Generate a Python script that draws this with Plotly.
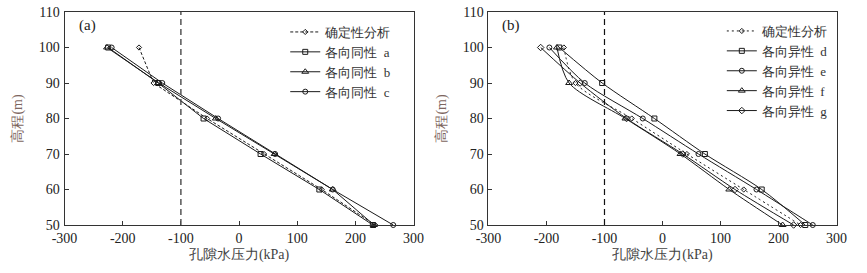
import plotly.graph_objects as go
from plotly.subplots import make_subplots

elev = [100, 90, 80, 70, 60, 50]

# Panel (a)
a_det = [-172, -147, -55, 43, 142, 234]
a_iso_a = [-225, -139, -61, 37, 138, 230]
a_iso_b = [-227, -138, -40, 61, 161, 232]
a_iso_c = [-219, -132, -36, 62, 161, 265]

# Panel (b)
b_det = [-170, -150, -53, 42, 140, 238]
b_ani_d = [-178, -104, -14, 73, 171, 246]
b_ani_e = [-195, -134, -34, 62, 162, 259]
b_ani_f = [-182, -161, -64, 31, 115, 207]
b_ani_g = [-210, -142, -62, 35, 125, 226]

x_ticks = [-300, -200, -100, 0, 100, 200, 300]
x_tick_text = ["-300", "-200", "-100", "0", "100", "200", "300"]
y_ticks = [50, 60, 70, 80, 90, 100, 110]
boundary_x = -100

names_a = ["确定性分析", "各向同性  a", "各向同性  b", "各向同性  c"]
names_b = ["确定性分析", "各向异性  d", "各向异性  e", "各向异性  f", "各向异性  g"]

SERIF = "Liberation Serif"
LC = "#1a1a1a"

fig = make_subplots(rows=1, cols=2)

def add(xs, name, symbol, col, legend, dash="solid", shape="linear", msize=5):
    fig.add_trace(go.Scatter(
        x=xs, y=elev, name=name, mode="lines+markers",
        line=dict(color=LC, width=1, dash=dash, shape=shape, smoothing=0.8),
        marker=dict(symbol=symbol, size=msize, color=LC,
                    line=dict(color=LC, width=1)),
        legend=legend, cliponaxis=False,
    ), row=1, col=col)

add(a_det, names_a[0], "diamond-open", 1, "legend", dash="3px,2px", msize=4)
add(a_iso_a, names_a[1], "square-open", 1, "legend")
add(a_iso_b, names_a[2], "triangle-up-open", 1, "legend", msize=6)
add(a_iso_c, names_a[3], "circle-open", 1, "legend")

add(b_det, names_b[0], "diamond-open", 2, "legend2", dash="2px,3px", shape="spline", msize=4)
add(b_ani_d, names_b[1], "square-open", 2, "legend2", shape="spline")
add(b_ani_e, names_b[2], "circle-open", 2, "legend2", shape="spline")
add(b_ani_f, names_b[3], "triangle-up-open", 2, "legend2", shape="spline", msize=6)
add(b_ani_g, names_b[4], "diamond-open", 2, "legend2", shape="spline")

W, H = 867, 273
ax_common = dict(
    showline=True, linecolor="#333", linewidth=1, mirror=True,
    ticks="inside", ticklen=4, tickcolor="#333",
    showgrid=False, zeroline=False,
    tickfont=dict(family=SERIF, size=14, color="#222"),
)
xdoms = [(53 / W, 412 / W), (489 / W, 847 / W)]
for i, col in enumerate([1, 2]):
    fig.update_xaxes(
        range=[-300, 300], tickvals=x_ticks, ticktext=x_tick_text,
        domain=list(xdoms[i]),
        title=dict(text="孔隙水压力(kPa)", standoff=4,
                   font=dict(family=SERIF, size=14, color="#444")),
        **ax_common, row=1, col=col)
    fig.update_yaxes(
        range=[50, 110], tickvals=y_ticks, ticklabelstandoff=1,
        title=dict(text="高程(m)", standoff=12,
                   font=dict(family=SERIF, size=14, color="#7d6660")),
        **ax_common, row=1, col=col)

fig.add_shape(type="line", xref="x", yref="y domain", x0=boundary_x, x1=boundary_x,
              y0=0, y1=1, line=dict(color="#555", width=1.5, dash="6px,4px"))
fig.add_shape(type="line", xref="x2", yref="y2 domain", x0=boundary_x, x1=boundary_x,
              y0=0, y1=1, line=dict(color="#111", width=1.2, dash="6px,4px"))

fig.add_annotation(text="(a)", xref="paper", yref="paper", x=77 / W, y=(225 - 26) / 213,
                   xanchor="center", yanchor="middle",
                   showarrow=False, font=dict(family=SERIF, size=15, color="#222"))
fig.add_annotation(text="(b)", xref="paper", yref="paper", x=512 / W, y=(225 - 26) / 213,
                   xanchor="center", yanchor="middle",
                   showarrow=False, font=dict(family=SERIF, size=15, color="#222"))

leg_common = dict(bgcolor="rgba(0,0,0,0)", borderwidth=0,
                  font=dict(family=SERIF, size=13, color="#333"),
                  xanchor="left", yanchor="top", tracegroupgap=0)
fig.update_layout(
    width=W, height=H,
    margin=dict(l=0, r=0, t=12, b=48),
    paper_bgcolor="white", plot_bgcolor="white",
    showlegend=True,
    legend=dict(x=280 / W, y=(225 - 17) / 213, **leg_common),
    legend2=dict(x=729 / W, y=(225 - 16) / 213, **leg_common),
)

fig.write_html("out.html", config={"displayModeBar": False},
               post_script="document.body.style.margin='0';")
